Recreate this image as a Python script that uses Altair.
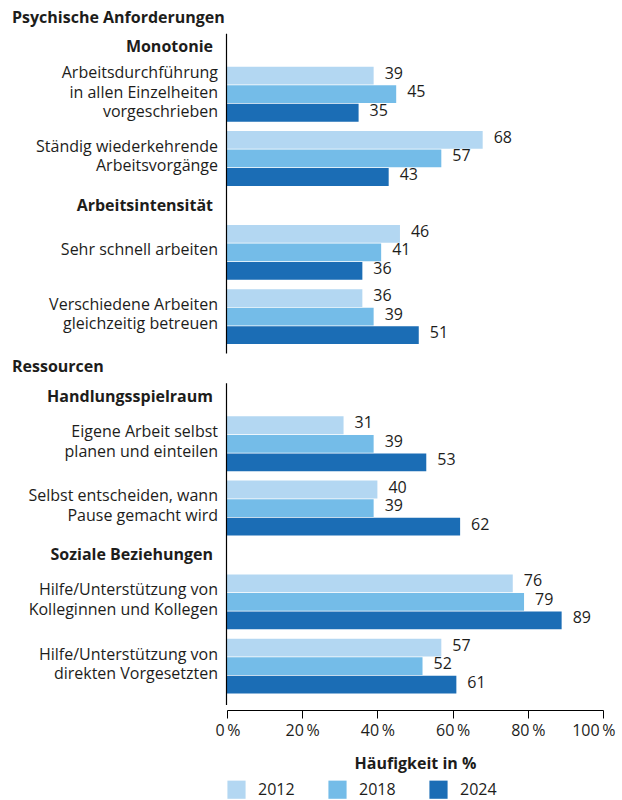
import altair as alt
import pandas as pd

# ---------------- data ----------------
sections = ["Psychische Anforderungen", "Ressourcen"]
subsections = ["Monotonie", "Arbeitsintensität", "Handlungsspielraum", "Soziale Beziehungen"]
subsection_section = [0, 0, 1, 1]
items = [
    "Arbeitsdurchführung\nin allen Einzelheiten\nvorgeschrieben",
    "Ständig wiederkehrende\nArbeitsvorgänge",
    "Sehr schnell arbeiten",
    "Verschiedene Arbeiten\ngleichzeitig betreuen",
    "Eigene Arbeit selbst\nplanen und einteilen",
    "Selbst entscheiden, wann\nPause gemacht wird",
    "Hilfe/Unterstützung von\nKolleginnen und Kollegen",
    "Hilfe/Unterstützung von\ndirekten Vorgesetzten",
]
item_subsection = [0, 0, 1, 1, 2, 2, 3, 3]
years = ["2012", "2018", "2024"]
v2012 = [39, 68, 46, 36, 31, 40, 76, 57]
v2018 = [45, 57, 41, 39, 39, 39, 79, 52]
v2024 = [35, 43, 36, 51, 53, 62, 89, 61]
colors = ["#b3d7f2", "#74bce8", "#1b6db5"]
x_ticks = [0, 20, 40, 60, 80, 100]

# ---------------- layout (in bar-slot units) ----------------
FIRST_HEADER = 0.8
HEADER_TO_SUB = 1.6
SUB_TO_BAR = 1.42
GROUP_GAP = 1.47
BAR_TO_SUB = 1.65
BAR_TO_HEADER = 1.85
LINE_ABOVE_SUB = 0.85
LINE_BELOW_BAR = 1.0
BOTTOM_BELOW_BAR = 1.1
LINE_HEIGHT = 19.5  # px

sec_rows, sub_rows, cat_rows, bar_rows, rule_rows = [], [], [], [], []
last_bar = None
series = [v2012, v2018, v2024]
for s, sec in enumerate(sections):
    if s == 0:
        hpos = FIRST_HEADER
    else:
        rule_rows[-1]["y2"] = last_bar + LINE_BELOW_BAR
        hpos = last_bar + BAR_TO_HEADER
    sec_rows.append({"text": sec, "pos": hpos})
    first_sub = True
    for k, sub in enumerate(subsections):
        if subsection_section[k] != s:
            continue
        spos = hpos + HEADER_TO_SUB if first_sub else last_bar + BAR_TO_SUB
        if first_sub:
            rule_rows.append({"y1": spos - LINE_ABOVE_SUB, "y2": None})
        first_sub = False
        sub_rows.append({"text": sub, "pos": spos})
        first_item = True
        for i, it in enumerate(items):
            if item_subsection[i] != k:
                continue
            start = spos + SUB_TO_BAR if first_item else last_bar + GROUP_GAP
            first_item = False
            for j, y in enumerate(years):
                p = start + j
                bar_rows.append({"item": i, "Jahr": y, "val": series[j][i], "pos": p})
            cat_rows.append({"text": it, "center": start + 1, "lines": it.count("\n") + 1})
            last_bar = start + 2
end = last_bar + BOTTOM_BELOW_BAR
rule_rows[-1]["y2"] = end

H = 710
W = 376
STEP = H / end

for r in cat_rows:
    r["pos"] = r["center"] - (r["lines"] - 1) / 2 * LINE_HEIGHT / STEP

bars = pd.DataFrame(bar_rows)
cats = pd.DataFrame(cat_rows)
subs = pd.DataFrame(sub_rows)
secs = pd.DataFrame(sec_rows)
rules = pd.DataFrame(rule_rows)

FONT = "Open Sans"
TXT = "#1d1d1b"
FS = 16
DY = -2

yscale = alt.Scale(domain=[0, end], reverse=True, nice=False, zero=False)
ypos = alt.Y("pos:Q", scale=yscale, axis=None)

bar_layer = alt.Chart(bars).mark_bar(orient="horizontal", size=STEP - 1.0).encode(
    x=alt.X(
        "val:Q",
        scale=alt.Scale(domain=[0, 100], nice=False),
        axis=alt.Axis(
            values=x_ticks,
            labelExpr="datum.value + '\u2009%'",
            title="Häufigkeit in %",
            grid=False,
            tickSize=8,
            tickColor="black",
            domainColor="black",
            labelPadding=4,
            labelFlush=True,
            labelFlushOffset=12,
            titlePadding=17,
        ),
    ),
    y=ypos,
    color=alt.Color(
        "Jahr:N",
        scale=alt.Scale(domain=years, range=colors),
        legend=alt.Legend(
            title=None,
            orient="none",
            direction="horizontal",
            legendX=0,
            legendY=H + 70,
            symbolType="square",
            symbolSize=330,
            symbolStrokeWidth=0,
            symbolOpacity=1,
            labelOffset=12,
            columnPadding=33,
            labelFontSize=FS,
        ),
    ),
)

value_layer = alt.Chart(bars).mark_text(
    align="left", baseline="middle", dx=11, dy=DY, font=FONT, fontSize=FS, color=TXT
).encode(x="val:Q", y=ypos, text="val:Q")

cat_layer = alt.Chart(cats).mark_text(
    align="right", baseline="middle", lineBreak="\n", lineHeight=LINE_HEIGHT, dy=DY,
    font=FONT, fontSize=FS, color=TXT
).encode(x=alt.value(-9), y=ypos, text="text:N")

sub_layer = alt.Chart(subs).mark_text(
    align="right", baseline="middle", dy=DY, font=FONT, fontSize=FS, fontWeight="bold", color=TXT
).encode(x=alt.value(-14), y=ypos, text="text:N")

sec_layer = alt.Chart(secs).mark_text(
    align="left", baseline="middle", dy=DY, font=FONT, fontSize=FS, fontWeight="bold", color=TXT
).encode(x=alt.value(-215), y=ypos, text="text:N")

rule_layer = alt.Chart(rules).mark_rule(color="black", strokeWidth=1.2).encode(
    x=alt.value(-0.5),
    y=alt.Y("y1:Q", scale=yscale, axis=None),
    y2="y2:Q",
)

chart = (
    alt.layer(bar_layer, value_layer, cat_layer, sub_layer, sec_layer, rule_layer)
    .properties(
        width=W,
        height=H,
        padding={"left": 227, "right": 19, "top": 0, "bottom": 90},
        autosize=alt.AutoSizeParams(type="none"),
    )
    .configure_view(stroke=None)
    .configure_axis(
        labelFont=FONT, titleFont=FONT, labelFontSize=FS, titleFontSize=FS,
        labelColor=TXT, titleColor=TXT, titleFontWeight="bold",
    )
    .configure_legend(labelFont=FONT, labelColor=TXT)
)

chart.save("out.html", embed_options={"renderer": "svg", "actions": False})
